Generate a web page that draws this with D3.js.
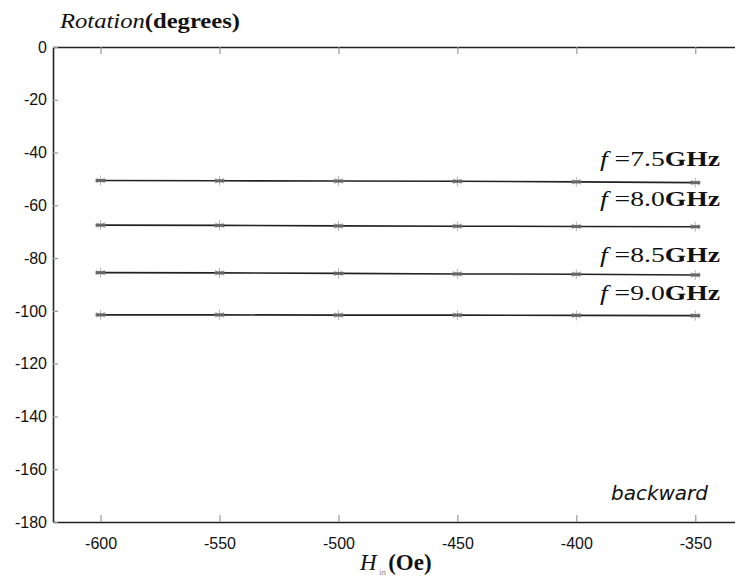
<!DOCTYPE html>
<html>
<head>
<meta charset="utf-8">
<script src="https://cdn.jsdelivr.net/npm/d3@7"></script>
<style>
  html, body { margin: 0; padding: 0; background: #fff; }
  svg { display: block; }
</style>
</head>
<body>
<svg id="chart" width="735" height="580"></svg>
<script>
// Applied field H (Oe) for each measurement
const fieldValues = [-600, -550, -500, -450, -400, -350];

// Faraday rotation (degrees) at each frequency
const rot75 = [-50.6, -50.7, -50.8, -50.9, -51.1, -51.4];
const rot80 = [-67.5, -67.6, -67.8, -67.9, -68.0, -68.1];
const rot85 = [-85.5, -85.6, -85.8, -86.0, -86.1, -86.4];
const rot90 = [-101.5, -101.5, -101.6, -101.6, -101.7, -101.8];

const seriesNames = ["7.5", "8.0", "8.5", "9.0"];
const seriesValues = [rot75, rot80, rot85, rot90];

const xTicks = [-600, -550, -500, -450, -400, -350];
const yTicks = [0, -20, -40, -60, -80, -100, -120, -140, -160, -180];

const svg = d3.select("#chart");

const plotLeft = 53, plotRight = 735, plotTop = 47, plotBottom = 522;

const x = d3.scaleLinear().domain([-620, -333.3]).range([plotLeft, plotRight]);
const y = d3.scaleLinear().domain([-180, 0]).range([plotBottom, plotTop]);

// plain hyphen-minus tick labels
const plain = d => String(d);

// Axes (ticks point inward, light grey)
const xAxis = svg.append("g")
  .attr("transform", `translate(0,${plotBottom})`)
  .call(d3.axisBottom(x).tickValues(xTicks).tickFormat(plain)
    .tickSizeInner(-7).tickSizeOuter(0).tickPadding(16));
const xTop = svg.append("g")
  .attr("transform", `translate(0,${plotTop})`)
  .call(d3.axisTop(x).tickValues(xTicks).tickSizeInner(-7).tickSizeOuter(0).tickFormat(""));
const yAxis = svg.append("g")
  .attr("transform", `translate(${plotLeft},0)`)
  .call(d3.axisLeft(y).tickValues(yTicks).tickFormat(plain)
    .tickSizeInner(-5).tickSizeOuter(0).tickPadding(6));

[xAxis, xTop, yAxis].forEach(g => {
  g.select(".domain").attr("stroke", "#222").attr("stroke-width", 1.6);
  g.selectAll(".tick line").attr("stroke", "#999").attr("stroke-width", 1.2);
  g.selectAll(".tick text")
    .attr("fill", "#111")
    .style("font-family", "'Liberation Sans', Arial, sans-serif")
    .style("font-size", "16px");
});

// Data lines
const line = d3.line()
  .x((d, i) => x(fieldValues[i]))
  .y(d => y(d));

seriesValues.forEach(vals => {
  svg.append("path")
    .datum(vals)
    .attr("fill", "none")
    .attr("stroke", "#222")
    .attr("stroke-width", 1.6)
    .attr("d", line);
});

// Asterisk markers at each point
seriesValues.forEach(vals => {
  const g = svg.append("g");
  vals.forEach((v, i) => {
    const cx = x(fieldValues[i]), cy = y(v);
    g.append("path")
      .attr("transform", `translate(${cx},${cy})`)
      .attr("d", d3.symbol(d3.symbolAsterisk, 70)())
      .attr("fill", "none")
      .attr("stroke", "#b5b5b5")
      .attr("stroke-width", 1);
    g.append("rect")
      .attr("x", cx - 5).attr("y", cy - 1.5)
      .attr("width", 10).attr("height", 3)
      .attr("fill", "#666");
  });
});

// Frequency labels
const serif = "'Liberation Serif', 'Times New Roman', serif";
const labelBaselines = [166, 206, 262, 300];
seriesNames.forEach((name, k) => {
  const t = svg.append("text")
    .attr("x", 600).attr("y", labelBaselines[k])
    .attr("textLength", 120).attr("lengthAdjust", "spacingAndGlyphs")
    .style("font-family", serif).style("font-size", "22px").attr("fill", "#111");
  t.append("tspan").style("font-style", "italic").text("f");
  t.append("tspan").text(" =" + name);
  t.append("tspan").style("font-weight", "bold").text("GHz");
});

// Y axis title
const yt = svg.append("text")
  .attr("x", 60).attr("y", 28)
  .attr("textLength", 180).attr("lengthAdjust", "spacingAndGlyphs")
  .style("font-family", serif).style("font-size", "22px").attr("fill", "#111");
yt.append("tspan").style("font-style", "italic").text("Rotation");
yt.append("tspan").style("font-weight", "bold").text("(degrees)");

// X axis title
const xt = svg.append("text")
  .attr("x", 360).attr("y", 570)
  .style("font-family", serif).style("font-size", "23px").attr("fill", "#111");
xt.append("tspan").style("font-style", "italic").text("H");
xt.append("tspan").attr("dy", 5).style("font-size", "9px").attr("fill", "#888").text(" in ");
xt.append("tspan").attr("dy", -5).style("font-weight", "bold").text("(Oe)");

// Direction note
svg.append("text")
  .attr("x", 708).attr("y", 500).attr("text-anchor", "end")
  .style("font-family", "'DejaVu Sans', sans-serif").style("font-style", "italic")
  .style("font-size", "20px").attr("fill", "#111")
  .text("backward");
</script>
</body>
</html>
